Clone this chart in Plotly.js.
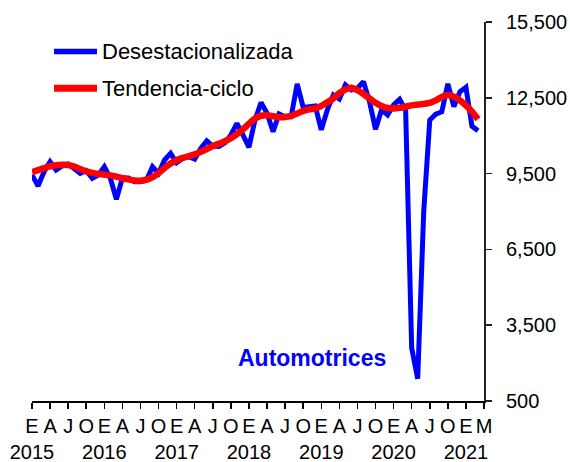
<!DOCTYPE html>
<html><head><meta charset="utf-8">
<script src="https://cdn.plot.ly/plotly-3.0.1.min.js"></script>
<style>html,body{margin:0;padding:0;background:#fff}</style>
</head><body>
<div id="chart" style="width:570px;height:462px"></div>
<script>
// Monthly series, January 2015 – March 2021
const years = ['2015','2016','2017','2018','2019','2020','2021'];
const monthLetters = ['E','A','J','O'];
const lastMonthLabel = 'M';

const desestacionalizada = [
  9450, 9010, 9575, 9970, 9640, 9800, 9880, 9720, 9510, 9615, 9315, 9445,
  9770, 9315, 8480, 9325, 9330, 9180, 9180, 9245, 9770, 9510, 10040, 10300,
  9930, 10100, 10170, 10070, 10500, 10800, 10590, 10570, 10720, 11030, 11490, 11030,
  10540, 11620, 12310, 11890, 11160, 11860, 11750, 11750, 13050, 12120, 12150, 12180,
  11230, 12020, 12610, 12450, 13010, 12810, 12880, 13140, 12350, 11250, 12020, 11820,
  12220, 12440, 12000, 2600, 1380, 8000, 11620, 11850, 11950, 13050, 12150, 12740,
  12920, 11380, 11200
];

const tendenciaCiclo = [
  9560, 9640, 9720, 9790, 9830, 9850, 9840, 9780, 9680, 9590, 9530, 9490,
  9460, 9430, 9380, 9320, 9270, 9230, 9220, 9260, 9360, 9520, 9720, 9900,
  10030, 10120, 10190, 10260, 10360, 10470, 10590, 10680, 10780, 10900, 11060, 11250,
  11480, 11680, 11790, 11810, 11770, 11730, 11740, 11780, 11880, 11980, 12040, 12080,
  12180, 12320, 12480, 12680, 12830, 12900, 12800, 12650, 12480, 12300, 12180, 12100,
  12080, 12100, 12150, 12200, 12230, 12260, 12300, 12400, 12530, 12610, 12540, 12400,
  12200, 11950, 11650
];

const seriesNames = ['Desestacionalizada', 'Tendencia-ciclo'];
const seriesColors = ['#0000FF', '#FF0000'];
const chartLabel = 'Automotrices';

const xIdx = desestacionalizada.map((_, i) => i);
const nCats = desestacionalizada.length;

// tick positions every 3 months, labels E/A/J/O with year under January
const tickvals = [], ticktext = [];
for (let i = 0; i < nCats; i += 3) {
  const m = monthLetters[(i / 3) % 4];
  tickvals.push(i);
  ticktext.push(i % 12 === 0 ? m + '<br>' + years[i / 12] : m);
}
tickvals.push(nCats);
ticktext.push(lastMonthLabel);

const font = 'Liberation Sans, Arial, sans-serif';
const widths = [5, 6.5];

const traces = [
  {x: xIdx, y: desestacionalizada, name: seriesNames[0], type: 'scatter', mode: 'lines',
   line: {color: seriesColors[0], width: widths[0]}},
  {x: xIdx, y: tendenciaCiclo, name: seriesNames[1], type: 'scatter', mode: 'lines',
   line: {color: seriesColors[1], width: widths[1], shape: 'spline', smoothing: 0.6}}
];

// legend drawn as line samples + text (paper coordinates)
const legRows = [0.9224, 0.825];
const shapes = seriesNames.map((n, k) => ({
  type: 'line', xref: 'paper', yref: 'paper', x0: 0.0487, x1: 0.1438,
  y0: legRows[k], y1: legRows[k], layer: 'above',
  line: {color: seriesColors[k], width: widths[k] + 0.5}
}));
const legendText = seriesNames.map((n, k) => ({
  text: n, xref: 'paper', yref: 'paper', x: 0.1505, y: legRows[k],
  xanchor: 'left', yanchor: 'middle', showarrow: false,
  font: {family: font, size: 22, color: '#000'}
}));

const layout = {
  width: 570, height: 462,
  margin: {l: 32, r: 86, t: 21.5, b: 60.5},
  paper_bgcolor: '#fff', plot_bgcolor: '#fff',
  font: {family: font, size: 20, color: '#000'},
  showlegend: false,
  xaxis: {range: [0, nCats], tickmode: 'array', tickvals: tickvals, ticktext: ticktext,
          showgrid: false, zeroline: false, showline: true, linecolor: '#000', linewidth: 1.5,
          ticks: 'outside', ticklen: 6, tickwidth: 1.5, tickcolor: '#000',
          tickfont: {family: font, size: 20, color: '#000'}, tickangle: 0,
          fixedrange: true},
  yaxis: {range: [500, 15500], side: 'right', tick0: 500, dtick: 3000, tickformat: ',d',
          showgrid: false, zeroline: false, showline: true, linecolor: '#222', linewidth: 2,
          ticks: 'outside', ticklen: 6, tickwidth: 1.5, tickcolor: '#222',
          tickfont: {family: font, size: 20, color: '#000'}, ticklabelstandoff: 10,
          fixedrange: true},
  shapes: shapes,
  annotations: legendText.concat([{
    text: '<b>' + chartLabel + '</b>', xref: 'paper', yref: 'paper',
    x: 0.619, y: 0.1145, xanchor: 'center', yanchor: 'middle', showarrow: false,
    font: {family: font, size: 23, color: '#0000FF'}
  }])
};

Plotly.newPlot('chart', traces, layout, {displayModeBar: false, staticPlot: true});
</script>
</body></html>
